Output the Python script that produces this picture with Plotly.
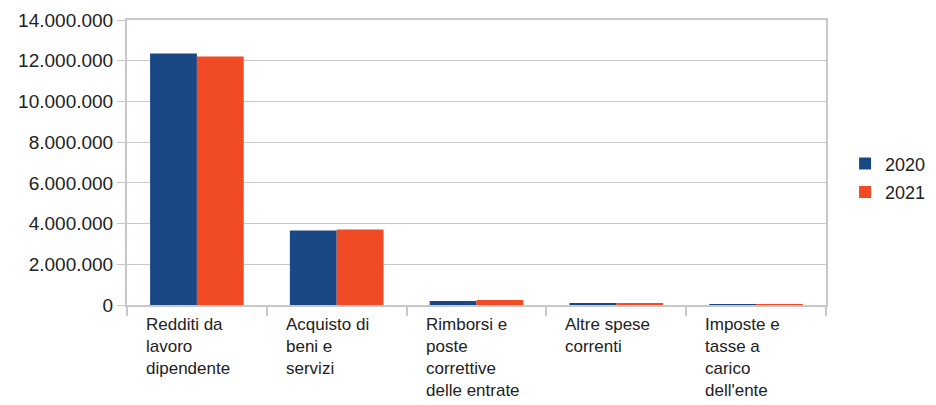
import plotly.graph_objects as go

categories = ["Redditi da lavoro dipendente", "Acquisto di beni e servizi",
              "Rimborsi e poste correttive delle entrate", "Altre spese correnti",
              "Imposte e tasse a carico dell'ente"]
cat_labels = ["Redditi da<br>lavoro<br>dipendente", "Acquisto di<br>beni e<br>servizi",
              "Rimborsi e<br>poste<br>correttive<br>delle entrate", "Altre spese<br>correnti",
              "Imposte e<br>tasse a<br>carico<br>dell'ente"]
values_2020 = [12360000, 3660000, 200000, 98000, 45000]
values_2021 = [12210000, 3710000, 245000, 90000, 40000]
series_names = ["2020", "2021"]
y_ticks = [0, 2000000, 4000000, 6000000, 8000000, 10000000, 12000000, 14000000]

BLUE = "#1a4885"
ORANGE = "#f04b24"
GRID = "#c8c8c8"
FONT = "Liberation Sans, Arial, sans-serif"
TXT = "#222222"

fig = go.Figure()
fig.add_trace(go.Bar(x=categories, y=values_2020, name=series_names[0], marker_color=BLUE,
                     marker_line_width=0, legendgroup="a"))
fig.add_trace(go.Bar(x=categories, y=values_2021, name=series_names[1], marker_color=ORANGE,
                     marker_line_width=0, legendgroup="b"))

for cat, lab in zip(categories, cat_labels):
    fig.add_annotation(x=cat, xref="x", y=0, yref="paper", text=lab, showarrow=False,
                       xanchor="left", yanchor="top", align="left", xshift=-53, yshift=-8,
                       font=dict(family=FONT, size=17, color=TXT))

fig.update_layout(
    width=928, height=397,
    margin=dict(l=119, r=110, t=12, b=100, autoexpand=False),
    plot_bgcolor="white", paper_bgcolor="white",
    barmode="group", bargap=0.33, bargroupgap=0,
    separators=",.",
    font=dict(family=FONT, size=19, color=TXT),
    legend=dict(xref="container", x=0.902, xanchor="left",
                yref="container", y=0.572, yanchor="middle",
                font=dict(family=FONT, size=18, color=TXT),
                itemwidth=30, tracegroupgap=2, bgcolor="rgba(0,0,0,0)"),
    showlegend=True,
)
fig.update_xaxes(showticklabels=False, ticks="outside", tickson="boundaries", ticklen=9,
                 tickcolor=GRID, tickwidth=2, showline=True, linecolor=GRID, linewidth=2,
                 mirror=True, showgrid=False)
fig.update_yaxes(range=[0, 14000000], tickvals=y_ticks, tickformat=",d", ticks="outside",
                 ticklen=8, tickcolor=GRID, tickwidth=1, showline=True, linecolor=GRID,
                 linewidth=2, mirror=True, gridcolor=GRID, gridwidth=1, zeroline=False,
                 tickfont=dict(family=FONT, size=19, color=TXT))

fig.write_html("out.html")
